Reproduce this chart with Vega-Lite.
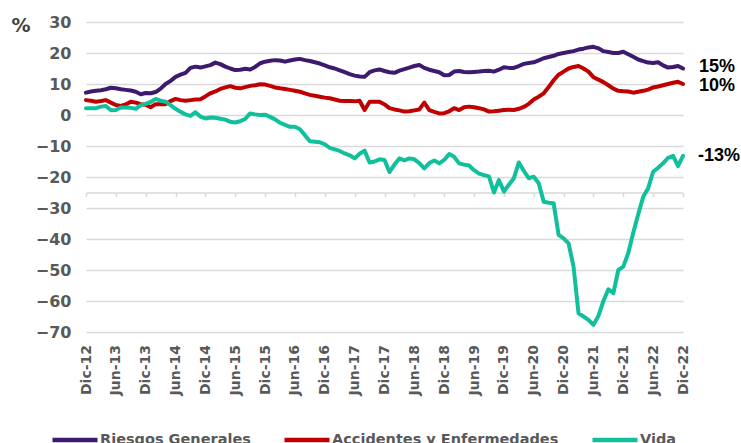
{
"$schema":"https://vega.github.io/schema/vega-lite/v6.json",
"width":597,"height":310,
"autosize":{"type":"none"},
"padding":{"left":86,"top":22,"right":58,"bottom":111},
"background":"white",
"config":{"view":{"stroke":null}},
"data":{"values":[
{"mes":"Dic-12","serie":"Riesgos Generales","valor":7.2},{"mes":"Dic-12","serie":"Accidentes y Enfermedades","valor":4.8},{"mes":"Dic-12","serie":"Vida","valor":2.2},
{"mes":"Ene-13","serie":"Riesgos Generales","valor":7.6},{"mes":"Ene-13","serie":"Accidentes y Enfermedades","valor":4.6},{"mes":"Ene-13","serie":"Vida","valor":2.2},
{"mes":"Feb-13","serie":"Riesgos Generales","valor":7.8},{"mes":"Feb-13","serie":"Accidentes y Enfermedades","valor":4.3},{"mes":"Feb-13","serie":"Vida","valor":2.2},
{"mes":"Mar-13","serie":"Riesgos Generales","valor":8.0},{"mes":"Mar-13","serie":"Accidentes y Enfermedades","valor":4.5},{"mes":"Mar-13","serie":"Vida","valor":2.7},
{"mes":"Abr-13","serie":"Riesgos Generales","valor":8.3},{"mes":"Abr-13","serie":"Accidentes y Enfermedades","valor":4.8},{"mes":"Abr-13","serie":"Vida","valor":2.9},
{"mes":"May-13","serie":"Riesgos Generales","valor":8.8},{"mes":"May-13","serie":"Accidentes y Enfermedades","valor":4.0},{"mes":"May-13","serie":"Vida","valor":1.5},
{"mes":"Jun-13","serie":"Riesgos Generales","valor":8.6},{"mes":"Jun-13","serie":"Accidentes y Enfermedades","valor":3.2},{"mes":"Jun-13","serie":"Vida","valor":1.6},
{"mes":"Jul-13","serie":"Riesgos Generales","valor":8.3},{"mes":"Jul-13","serie":"Accidentes y Enfermedades","valor":2.9},{"mes":"Jul-13","serie":"Vida","valor":2.4},
{"mes":"Ago-13","serie":"Riesgos Generales","valor":8.1},{"mes":"Ago-13","serie":"Accidentes y Enfermedades","valor":3.4},{"mes":"Ago-13","serie":"Vida","valor":2.4},
{"mes":"Sep-13","serie":"Riesgos Generales","valor":7.9},{"mes":"Sep-13","serie":"Accidentes y Enfermedades","valor":4.3},{"mes":"Sep-13","serie":"Vida","valor":2.3},
{"mes":"Oct-13","serie":"Riesgos Generales","valor":7.5},{"mes":"Oct-13","serie":"Accidentes y Enfermedades","valor":4.0},{"mes":"Oct-13","serie":"Vida","valor":2.0},
{"mes":"Nov-13","serie":"Riesgos Generales","valor":6.7},{"mes":"Nov-13","serie":"Accidentes y Enfermedades","valor":3.5},{"mes":"Nov-13","serie":"Vida","valor":3.2},
{"mes":"Dic-13","serie":"Riesgos Generales","valor":7.1},{"mes":"Dic-13","serie":"Accidentes y Enfermedades","valor":3.3},{"mes":"Dic-13","serie":"Vida","valor":3.6},
{"mes":"Ene-14","serie":"Riesgos Generales","valor":7.0},{"mes":"Ene-14","serie":"Accidentes y Enfermedades","valor":2.5},{"mes":"Ene-14","serie":"Vida","valor":4.2},
{"mes":"Feb-14","serie":"Riesgos Generales","valor":7.4},{"mes":"Feb-14","serie":"Accidentes y Enfermedades","valor":3.5},{"mes":"Feb-14","serie":"Vida","valor":5.2},
{"mes":"Mar-14","serie":"Riesgos Generales","valor":8.5},{"mes":"Mar-14","serie":"Accidentes y Enfermedades","valor":3.5},{"mes":"Mar-14","serie":"Vida","valor":4.6},
{"mes":"Abr-14","serie":"Riesgos Generales","valor":10.0},{"mes":"Abr-14","serie":"Accidentes y Enfermedades","valor":3.5},{"mes":"Abr-14","serie":"Vida","valor":4.3},
{"mes":"May-14","serie":"Riesgos Generales","valor":11.0},{"mes":"May-14","serie":"Accidentes y Enfermedades","valor":4.5},{"mes":"May-14","serie":"Vida","valor":3.2},
{"mes":"Jun-14","serie":"Riesgos Generales","valor":12.3},{"mes":"Jun-14","serie":"Accidentes y Enfermedades","valor":5.2},{"mes":"Jun-14","serie":"Vida","valor":2.0},
{"mes":"Jul-14","serie":"Riesgos Generales","valor":13.0},{"mes":"Jul-14","serie":"Accidentes y Enfermedades","valor":4.8},{"mes":"Jul-14","serie":"Vida","valor":1.0},
{"mes":"Ago-14","serie":"Riesgos Generales","valor":13.6},{"mes":"Ago-14","serie":"Accidentes y Enfermedades","valor":4.6},{"mes":"Ago-14","serie":"Vida","valor":0.2},
{"mes":"Sep-14","serie":"Riesgos Generales","valor":15.2},{"mes":"Sep-14","serie":"Accidentes y Enfermedades","valor":4.8},{"mes":"Sep-14","serie":"Vida","valor":-0.3},
{"mes":"Oct-14","serie":"Riesgos Generales","valor":15.6},{"mes":"Oct-14","serie":"Accidentes y Enfermedades","valor":5.0},{"mes":"Oct-14","serie":"Vida","valor":0.9},
{"mes":"Nov-14","serie":"Riesgos Generales","valor":15.3},{"mes":"Nov-14","serie":"Accidentes y Enfermedades","valor":5.1},{"mes":"Nov-14","serie":"Vida","valor":-0.5},
{"mes":"Dic-14","serie":"Riesgos Generales","valor":15.7},{"mes":"Dic-14","serie":"Accidentes y Enfermedades","valor":6.0},{"mes":"Dic-14","serie":"Vida","valor":-1.1},
{"mes":"Ene-15","serie":"Riesgos Generales","valor":16.1},{"mes":"Ene-15","serie":"Accidentes y Enfermedades","valor":7.0},{"mes":"Ene-15","serie":"Vida","valor":-0.8},
{"mes":"Feb-15","serie":"Riesgos Generales","valor":16.9},{"mes":"Feb-15","serie":"Accidentes y Enfermedades","valor":7.6},{"mes":"Feb-15","serie":"Vida","valor":-0.9},
{"mes":"Mar-15","serie":"Riesgos Generales","valor":16.4},{"mes":"Mar-15","serie":"Accidentes y Enfermedades","valor":8.4},{"mes":"Mar-15","serie":"Vida","valor":-1.2},
{"mes":"Abr-15","serie":"Riesgos Generales","valor":15.6},{"mes":"Abr-15","serie":"Accidentes y Enfermedades","valor":8.9},{"mes":"Abr-15","serie":"Vida","valor":-1.5},
{"mes":"May-15","serie":"Riesgos Generales","valor":15.0},{"mes":"May-15","serie":"Accidentes y Enfermedades","valor":9.3},{"mes":"May-15","serie":"Vida","valor":-2.2},
{"mes":"Jun-15","serie":"Riesgos Generales","valor":14.5},{"mes":"Jun-15","serie":"Accidentes y Enfermedades","valor":8.8},{"mes":"Jun-15","serie":"Vida","valor":-2.4},
{"mes":"Jul-15","serie":"Riesgos Generales","valor":14.6},{"mes":"Jul-15","serie":"Accidentes y Enfermedades","valor":8.6},{"mes":"Jul-15","serie":"Vida","valor":-2.0},
{"mes":"Ago-15","serie":"Riesgos Generales","valor":14.9},{"mes":"Ago-15","serie":"Accidentes y Enfermedades","valor":9.0},{"mes":"Ago-15","serie":"Vida","valor":-1.3},
{"mes":"Sep-15","serie":"Riesgos Generales","valor":14.7},{"mes":"Sep-15","serie":"Accidentes y Enfermedades","valor":9.4},{"mes":"Sep-15","serie":"Vida","valor":0.5},
{"mes":"Oct-15","serie":"Riesgos Generales","valor":15.5},{"mes":"Oct-15","serie":"Accidentes y Enfermedades","valor":9.6},{"mes":"Oct-15","serie":"Vida","valor":0.2},
{"mes":"Nov-15","serie":"Riesgos Generales","valor":16.7},{"mes":"Nov-15","serie":"Accidentes y Enfermedades","valor":9.9},{"mes":"Nov-15","serie":"Vida","valor":0.0},
{"mes":"Dic-15","serie":"Riesgos Generales","valor":17.2},{"mes":"Dic-15","serie":"Accidentes y Enfermedades","valor":9.8},{"mes":"Dic-15","serie":"Vida","valor":0.1},
{"mes":"Ene-16","serie":"Riesgos Generales","valor":17.5},{"mes":"Ene-16","serie":"Accidentes y Enfermedades","valor":9.4},{"mes":"Ene-16","serie":"Vida","valor":-0.6},
{"mes":"Feb-16","serie":"Riesgos Generales","valor":17.7},{"mes":"Feb-16","serie":"Accidentes y Enfermedades","valor":8.9},{"mes":"Feb-16","serie":"Vida","valor":-1.4},
{"mes":"Mar-16","serie":"Riesgos Generales","valor":17.6},{"mes":"Mar-16","serie":"Accidentes y Enfermedades","valor":8.6},{"mes":"Mar-16","serie":"Vida","valor":-2.5},
{"mes":"Abr-16","serie":"Riesgos Generales","valor":17.2},{"mes":"Abr-16","serie":"Accidentes y Enfermedades","valor":8.4},{"mes":"Abr-16","serie":"Vida","valor":-3.2},
{"mes":"May-16","serie":"Riesgos Generales","valor":17.6},{"mes":"May-16","serie":"Accidentes y Enfermedades","valor":8.1},{"mes":"May-16","serie":"Vida","valor":-3.8},
{"mes":"Jun-16","serie":"Riesgos Generales","valor":17.9},{"mes":"Jun-16","serie":"Accidentes y Enfermedades","valor":7.8},{"mes":"Jun-16","serie":"Vida","valor":-3.8},
{"mes":"Jul-16","serie":"Riesgos Generales","valor":18.1},{"mes":"Jul-16","serie":"Accidentes y Enfermedades","valor":7.5},{"mes":"Jul-16","serie":"Vida","valor":-4.6},
{"mes":"Ago-16","serie":"Riesgos Generales","valor":17.7},{"mes":"Ago-16","serie":"Accidentes y Enfermedades","valor":7.0},{"mes":"Ago-16","serie":"Vida","valor":-6.5},
{"mes":"Sep-16","serie":"Riesgos Generales","valor":17.4},{"mes":"Sep-16","serie":"Accidentes y Enfermedades","valor":6.5},{"mes":"Sep-16","serie":"Vida","valor":-8.5},
{"mes":"Oct-16","serie":"Riesgos Generales","valor":17.0},{"mes":"Oct-16","serie":"Accidentes y Enfermedades","valor":6.2},{"mes":"Oct-16","serie":"Vida","valor":-8.6},
{"mes":"Nov-16","serie":"Riesgos Generales","valor":16.6},{"mes":"Nov-16","serie":"Accidentes y Enfermedades","valor":5.9},{"mes":"Nov-16","serie":"Vida","valor":-8.8},
{"mes":"Dic-16","serie":"Riesgos Generales","valor":16.0},{"mes":"Dic-16","serie":"Accidentes y Enfermedades","valor":5.6},{"mes":"Dic-16","serie":"Vida","valor":-9.5},
{"mes":"Ene-17","serie":"Riesgos Generales","valor":15.4},{"mes":"Ene-17","serie":"Accidentes y Enfermedades","valor":5.4},{"mes":"Ene-17","serie":"Vida","valor":-10.6},
{"mes":"Feb-17","serie":"Riesgos Generales","valor":15.0},{"mes":"Feb-17","serie":"Accidentes y Enfermedades","valor":5.0},{"mes":"Feb-17","serie":"Vida","valor":-11.1},
{"mes":"Mar-17","serie":"Riesgos Generales","valor":14.4},{"mes":"Mar-17","serie":"Accidentes y Enfermedades","valor":4.6},{"mes":"Mar-17","serie":"Vida","valor":-11.6},
{"mes":"Abr-17","serie":"Riesgos Generales","valor":13.8},{"mes":"Abr-17","serie":"Accidentes y Enfermedades","valor":4.5},{"mes":"Abr-17","serie":"Vida","valor":-12.4},
{"mes":"May-17","serie":"Riesgos Generales","valor":13.2},{"mes":"May-17","serie":"Accidentes y Enfermedades","valor":4.5},{"mes":"May-17","serie":"Vida","valor":-13.0},
{"mes":"Jun-17","serie":"Riesgos Generales","valor":12.7},{"mes":"Jun-17","serie":"Accidentes y Enfermedades","valor":4.4},{"mes":"Jun-17","serie":"Vida","valor":-14.0},
{"mes":"Jul-17","serie":"Riesgos Generales","valor":12.4},{"mes":"Jul-17","serie":"Accidentes y Enfermedades","valor":4.6},{"mes":"Jul-17","serie":"Vida","valor":-12.5},
{"mes":"Ago-17","serie":"Riesgos Generales","valor":12.3},{"mes":"Ago-17","serie":"Accidentes y Enfermedades","valor":1.6},{"mes":"Ago-17","serie":"Vida","valor":-11.5},
{"mes":"Sep-17","serie":"Riesgos Generales","valor":13.8},{"mes":"Sep-17","serie":"Accidentes y Enfermedades","valor":4.3},{"mes":"Sep-17","serie":"Vida","valor":-15.3},
{"mes":"Oct-17","serie":"Riesgos Generales","valor":14.4},{"mes":"Oct-17","serie":"Accidentes y Enfermedades","valor":4.3},{"mes":"Oct-17","serie":"Vida","valor":-15.0},
{"mes":"Nov-17","serie":"Riesgos Generales","valor":14.7},{"mes":"Nov-17","serie":"Accidentes y Enfermedades","valor":4.3},{"mes":"Nov-17","serie":"Vida","valor":-14.3},
{"mes":"Dic-17","serie":"Riesgos Generales","valor":14.2},{"mes":"Dic-17","serie":"Accidentes y Enfermedades","valor":3.4},{"mes":"Dic-17","serie":"Vida","valor":-14.5},
{"mes":"Ene-18","serie":"Riesgos Generales","valor":13.8},{"mes":"Ene-18","serie":"Accidentes y Enfermedades","valor":2.2},{"mes":"Ene-18","serie":"Vida","valor":-18.4},
{"mes":"Feb-18","serie":"Riesgos Generales","valor":13.6},{"mes":"Feb-18","serie":"Accidentes y Enfermedades","valor":1.8},{"mes":"Feb-18","serie":"Vida","valor":-16.0},
{"mes":"Mar-18","serie":"Riesgos Generales","valor":14.3},{"mes":"Mar-18","serie":"Accidentes y Enfermedades","valor":1.5},{"mes":"Mar-18","serie":"Vida","valor":-14.0},
{"mes":"Abr-18","serie":"Riesgos Generales","valor":14.8},{"mes":"Abr-18","serie":"Accidentes y Enfermedades","valor":1.1},{"mes":"Abr-18","serie":"Vida","valor":-14.6},
{"mes":"May-18","serie":"Riesgos Generales","valor":15.3},{"mes":"May-18","serie":"Accidentes y Enfermedades","valor":1.2},{"mes":"May-18","serie":"Vida","valor":-14.0},
{"mes":"Jun-18","serie":"Riesgos Generales","valor":15.8},{"mes":"Jun-18","serie":"Accidentes y Enfermedades","valor":1.5},{"mes":"Jun-18","serie":"Vida","valor":-14.3},
{"mes":"Jul-18","serie":"Riesgos Generales","valor":16.1},{"mes":"Jul-18","serie":"Accidentes y Enfermedades","valor":1.8},{"mes":"Jul-18","serie":"Vida","valor":-15.5},
{"mes":"Ago-18","serie":"Riesgos Generales","valor":15.2},{"mes":"Ago-18","serie":"Accidentes y Enfermedades","valor":4.0},{"mes":"Ago-18","serie":"Vida","valor":-17.2},
{"mes":"Sep-18","serie":"Riesgos Generales","valor":14.6},{"mes":"Sep-18","serie":"Accidentes y Enfermedades","valor":1.6},{"mes":"Sep-18","serie":"Vida","valor":-15.5},
{"mes":"Oct-18","serie":"Riesgos Generales","valor":14.2},{"mes":"Oct-18","serie":"Accidentes y Enfermedades","valor":1.0},{"mes":"Oct-18","serie":"Vida","valor":-14.7},
{"mes":"Nov-18","serie":"Riesgos Generales","valor":13.8},{"mes":"Nov-18","serie":"Accidentes y Enfermedades","valor":0.5},{"mes":"Nov-18","serie":"Vida","valor":-15.6},
{"mes":"Dic-18","serie":"Riesgos Generales","valor":12.8},{"mes":"Dic-18","serie":"Accidentes y Enfermedades","valor":0.6},{"mes":"Dic-18","serie":"Vida","valor":-14.5},
{"mes":"Ene-19","serie":"Riesgos Generales","valor":12.9},{"mes":"Ene-19","serie":"Accidentes y Enfermedades","valor":1.2},{"mes":"Ene-19","serie":"Vida","valor":-12.6},
{"mes":"Feb-19","serie":"Riesgos Generales","valor":14.0},{"mes":"Feb-19","serie":"Accidentes y Enfermedades","valor":2.2},{"mes":"Feb-19","serie":"Vida","valor":-13.5},
{"mes":"Mar-19","serie":"Riesgos Generales","valor":14.2},{"mes":"Mar-19","serie":"Accidentes y Enfermedades","valor":1.6},{"mes":"Mar-19","serie":"Vida","valor":-15.6},
{"mes":"Abr-19","serie":"Riesgos Generales","valor":13.9},{"mes":"Abr-19","serie":"Accidentes y Enfermedades","valor":2.5},{"mes":"Abr-19","serie":"Vida","valor":-16.0},
{"mes":"May-19","serie":"Riesgos Generales","valor":13.8},{"mes":"May-19","serie":"Accidentes y Enfermedades","valor":2.7},{"mes":"May-19","serie":"Vida","valor":-16.3},
{"mes":"Jun-19","serie":"Riesgos Generales","valor":13.9},{"mes":"Jun-19","serie":"Accidentes y Enfermedades","valor":2.5},{"mes":"Jun-19","serie":"Vida","valor":-17.8},
{"mes":"Jul-19","serie":"Riesgos Generales","valor":14.0},{"mes":"Jul-19","serie":"Accidentes y Enfermedades","valor":2.2},{"mes":"Jul-19","serie":"Vida","valor":-18.9},
{"mes":"Ago-19","serie":"Riesgos Generales","valor":14.2},{"mes":"Ago-19","serie":"Accidentes y Enfermedades","valor":1.8},{"mes":"Ago-19","serie":"Vida","valor":-19.4},
{"mes":"Sep-19","serie":"Riesgos Generales","valor":14.3},{"mes":"Sep-19","serie":"Accidentes y Enfermedades","valor":1.1},{"mes":"Sep-19","serie":"Vida","valor":-19.8},
{"mes":"Oct-19","serie":"Riesgos Generales","valor":14.0},{"mes":"Oct-19","serie":"Accidentes y Enfermedades","valor":1.2},{"mes":"Oct-19","serie":"Vida","valor":-25.0},
{"mes":"Nov-19","serie":"Riesgos Generales","valor":14.6},{"mes":"Nov-19","serie":"Accidentes y Enfermedades","valor":1.4},{"mes":"Nov-19","serie":"Vida","valor":-21.0},
{"mes":"Dic-19","serie":"Riesgos Generales","valor":15.4},{"mes":"Dic-19","serie":"Accidentes y Enfermedades","valor":1.6},{"mes":"Dic-19","serie":"Vida","valor":-24.7},
{"mes":"Ene-20","serie":"Riesgos Generales","valor":15.2},{"mes":"Ene-20","serie":"Accidentes y Enfermedades","valor":1.7},{"mes":"Ene-20","serie":"Vida","valor":-22.5},
{"mes":"Feb-20","serie":"Riesgos Generales","valor":15.2},{"mes":"Feb-20","serie":"Accidentes y Enfermedades","valor":1.6},{"mes":"Feb-20","serie":"Vida","valor":-20.4},
{"mes":"Mar-20","serie":"Riesgos Generales","valor":15.8},{"mes":"Mar-20","serie":"Accidentes y Enfermedades","valor":2.0},{"mes":"Mar-20","serie":"Vida","valor":-15.3},
{"mes":"Abr-20","serie":"Riesgos Generales","valor":16.5},{"mes":"Abr-20","serie":"Accidentes y Enfermedades","valor":2.6},{"mes":"Abr-20","serie":"Vida","valor":-18.0},
{"mes":"May-20","serie":"Riesgos Generales","valor":16.8},{"mes":"May-20","serie":"Accidentes y Enfermedades","valor":3.6},{"mes":"May-20","serie":"Vida","valor":-20.4},
{"mes":"Jun-20","serie":"Riesgos Generales","valor":17.0},{"mes":"Jun-20","serie":"Accidentes y Enfermedades","valor":5.0},{"mes":"Jun-20","serie":"Vida","valor":-19.9},
{"mes":"Jul-20","serie":"Riesgos Generales","valor":17.6},{"mes":"Jul-20","serie":"Accidentes y Enfermedades","valor":5.9},{"mes":"Jul-20","serie":"Vida","valor":-22.0},
{"mes":"Ago-20","serie":"Riesgos Generales","valor":18.3},{"mes":"Ago-20","serie":"Accidentes y Enfermedades","valor":7.0},{"mes":"Ago-20","serie":"Vida","valor":-28.0},
{"mes":"Sep-20","serie":"Riesgos Generales","valor":18.7},{"mes":"Sep-20","serie":"Accidentes y Enfermedades","valor":9.0},{"mes":"Sep-20","serie":"Vida","valor":-28.3},
{"mes":"Oct-20","serie":"Riesgos Generales","valor":19.1},{"mes":"Oct-20","serie":"Accidentes y Enfermedades","valor":11.2},{"mes":"Oct-20","serie":"Vida","valor":-28.5},
{"mes":"Nov-20","serie":"Riesgos Generales","valor":19.7},{"mes":"Nov-20","serie":"Accidentes y Enfermedades","valor":13.0},{"mes":"Nov-20","serie":"Vida","valor":-38.7},
{"mes":"Dic-20","serie":"Riesgos Generales","valor":20.0},{"mes":"Dic-20","serie":"Accidentes y Enfermedades","valor":14.0},{"mes":"Dic-20","serie":"Vida","valor":-39.8},
{"mes":"Ene-21","serie":"Riesgos Generales","valor":20.3},{"mes":"Ene-21","serie":"Accidentes y Enfermedades","valor":15.0},{"mes":"Ene-21","serie":"Vida","valor":-41.4},
{"mes":"Feb-21","serie":"Riesgos Generales","valor":20.6},{"mes":"Feb-21","serie":"Accidentes y Enfermedades","valor":15.5},{"mes":"Feb-21","serie":"Vida","valor":-48.9},
{"mes":"Mar-21","serie":"Riesgos Generales","valor":21.1},{"mes":"Mar-21","serie":"Accidentes y Enfermedades","valor":15.8},{"mes":"Mar-21","serie":"Vida","valor":-64.0},
{"mes":"Abr-21","serie":"Riesgos Generales","valor":21.4},{"mes":"Abr-21","serie":"Accidentes y Enfermedades","valor":15.0},{"mes":"Abr-21","serie":"Vida","valor":-65.0},
{"mes":"May-21","serie":"Riesgos Generales","valor":21.8},{"mes":"May-21","serie":"Accidentes y Enfermedades","valor":14.0},{"mes":"May-21","serie":"Vida","valor":-66.1},
{"mes":"Jun-21","serie":"Riesgos Generales","valor":22.0},{"mes":"Jun-21","serie":"Accidentes y Enfermedades","valor":12.2},{"mes":"Jun-21","serie":"Vida","valor":-67.7},
{"mes":"Jul-21","serie":"Riesgos Generales","valor":21.5},{"mes":"Jul-21","serie":"Accidentes y Enfermedades","valor":11.4},{"mes":"Jul-21","serie":"Vida","valor":-64.8},
{"mes":"Ago-21","serie":"Riesgos Generales","valor":20.6},{"mes":"Ago-21","serie":"Accidentes y Enfermedades","valor":10.6},{"mes":"Ago-21","serie":"Vida","valor":-60.0},
{"mes":"Sep-21","serie":"Riesgos Generales","valor":20.3},{"mes":"Sep-21","serie":"Accidentes y Enfermedades","valor":9.6},{"mes":"Sep-21","serie":"Vida","valor":-56.2},
{"mes":"Oct-21","serie":"Riesgos Generales","valor":20.0},{"mes":"Oct-21","serie":"Accidentes y Enfermedades","valor":8.5},{"mes":"Oct-21","serie":"Vida","valor":-57.5},
{"mes":"Nov-21","serie":"Riesgos Generales","valor":20.0},{"mes":"Nov-21","serie":"Accidentes y Enfermedades","valor":7.8},{"mes":"Nov-21","serie":"Vida","valor":-50.0},
{"mes":"Dic-21","serie":"Riesgos Generales","valor":20.4},{"mes":"Dic-21","serie":"Accidentes y Enfermedades","valor":7.7},{"mes":"Dic-21","serie":"Vida","valor":-48.9},
{"mes":"Ene-22","serie":"Riesgos Generales","valor":19.6},{"mes":"Ene-22","serie":"Accidentes y Enfermedades","valor":7.6},{"mes":"Ene-22","serie":"Vida","valor":-44.5},
{"mes":"Feb-22","serie":"Riesgos Generales","valor":18.8},{"mes":"Feb-22","serie":"Accidentes y Enfermedades","valor":7.2},{"mes":"Feb-22","serie":"Vida","valor":-38.0},
{"mes":"Mar-22","serie":"Riesgos Generales","valor":17.9},{"mes":"Mar-22","serie":"Accidentes y Enfermedades","valor":7.5},{"mes":"Mar-22","serie":"Vida","valor":-32.0},
{"mes":"Abr-22","serie":"Riesgos Generales","valor":17.4},{"mes":"Abr-22","serie":"Accidentes y Enfermedades","valor":7.8},{"mes":"Abr-22","serie":"Vida","valor":-26.4},
{"mes":"May-22","serie":"Riesgos Generales","valor":16.9},{"mes":"May-22","serie":"Accidentes y Enfermedades","valor":8.2},{"mes":"May-22","serie":"Vida","valor":-23.6},
{"mes":"Jun-22","serie":"Riesgos Generales","valor":16.8},{"mes":"Jun-22","serie":"Accidentes y Enfermedades","valor":8.9},{"mes":"Jun-22","serie":"Vida","valor":-18.3},
{"mes":"Jul-22","serie":"Riesgos Generales","valor":17.0},{"mes":"Jul-22","serie":"Accidentes y Enfermedades","valor":9.2},{"mes":"Jul-22","serie":"Vida","valor":-17.0},
{"mes":"Ago-22","serie":"Riesgos Generales","valor":16.0},{"mes":"Ago-22","serie":"Accidentes y Enfermedades","valor":9.6},{"mes":"Ago-22","serie":"Vida","valor":-15.6},
{"mes":"Sep-22","serie":"Riesgos Generales","valor":15.3},{"mes":"Sep-22","serie":"Accidentes y Enfermedades","valor":10.0},{"mes":"Sep-22","serie":"Vida","valor":-13.8},
{"mes":"Oct-22","serie":"Riesgos Generales","valor":15.5},{"mes":"Oct-22","serie":"Accidentes y Enfermedades","valor":10.4},{"mes":"Oct-22","serie":"Vida","valor":-13.2},
{"mes":"Nov-22","serie":"Riesgos Generales","valor":15.8},{"mes":"Nov-22","serie":"Accidentes y Enfermedades","valor":10.7},{"mes":"Nov-22","serie":"Vida","valor":-16.5},
{"mes":"Dic-22","serie":"Riesgos Generales","valor":15.0},{"mes":"Dic-22","serie":"Accidentes y Enfermedades","valor":10.0},{"mes":"Dic-22","serie":"Vida","valor":-13.2}
]},
"transform":[{"calculate":"round(datum.valor)+'%'","as":"etiqueta"}],
"encoding":{
 "x":{"field":"mes","type":"ordinal","sort":null,"scale":{"type":"point","padding":0},
  "axis":{"values":["Dic-12","Jun-13","Dic-13","Jun-14","Dic-14","Jun-15","Dic-15","Jun-16","Dic-16","Jun-17","Dic-17","Jun-18","Dic-18","Jun-19","Dic-19","Jun-20","Dic-20","Jun-21","Dic-21","Jun-22","Dic-22"],
   "title":null,"grid":false,"labelAngle":-90,"offset":-139.5,"domainColor":"#D9D9D9","domainWidth":1.5,"tickColor":"#D9D9D9","tickWidth":1.5,"tickSize":4,"labelPadding":148,
   "labelFont":"DejaVu Sans","labelFontWeight":"bold","labelFontSize":14,"labelColor":"#595959"}},
 "y":{"field":"valor","type":"quantitative","scale":{"domain":[-70,30],"nice":false,"zero":false},
  "axis":{"values":[-70,-60,-50,-40,-30,-20,-10,0,10,20,30],"grid":true,"gridColor":"#D9D9D9","gridWidth":1.5,"domain":false,"ticks":false,"labelPadding":15,
   "labelFont":"DejaVu Sans","labelFontSize":16,"labelFontWeight":"bold","labelColor":"#595959",
   "title":"%","titleAngle":0,"titleX":-75,"titleY":9,"titleAlign":"left","titleBaseline":"alphabetic","titleFont":"DejaVu Sans","titleFontSize":19,"titleFontWeight":"bold","titleColor":"#404040"}}
},
"layer":[
 {"mark":{"type":"line","strokeWidth":4,"strokeJoin":"round","strokeCap":"round"},
  "encoding":{"color":{"field":"serie","type":"nominal","scale":{"domain":["Riesgos Generales","Accidentes y Enfermedades","Vida"],"range":["#3D1A6E","#C00000","#10BF9B"]},
   "legend":{"orient":"none","legendX":-36,"legendY":393,"direction":"horizontal","title":null,"symbolType":"stroke","symbolSize":2025,"symbolStrokeWidth":4.5,
    "labelFont":"DejaVu Sans","labelFontSize":14.5,"labelFontWeight":"bold","labelColor":"#595959","labelOffset":0,"columnPadding":24,"padding":0,"labelLimit":400}}}},
 {"mark":{"type":"text","align":"left","baseline":"middle","dx":16,"dy":-2,"font":"Liberation Sans","fontSize":18,"fontWeight":"bold","color":"#000000"},
  "encoding":{"text":{"condition":{"test":"datum.mes === 'Dic-22' && datum.serie === 'Riesgos Generales'","field":"etiqueta"},"value":""}}},
 {"mark":{"type":"text","align":"left","baseline":"middle","dx":16,"dy":2,"font":"Liberation Sans","fontSize":18,"fontWeight":"bold","color":"#000000"},
  "encoding":{"text":{"condition":{"test":"datum.mes === 'Dic-22' && datum.serie === 'Accidentes y Enfermedades'","field":"etiqueta"},"value":""}}},
 {"mark":{"type":"text","align":"left","baseline":"middle","dx":15,"font":"Liberation Sans","fontSize":18,"fontWeight":"bold","color":"#000000"},
  "encoding":{"text":{"condition":{"test":"datum.mes === 'Dic-22' && datum.serie === 'Vida'","field":"etiqueta"},"value":""}}}
]
}
